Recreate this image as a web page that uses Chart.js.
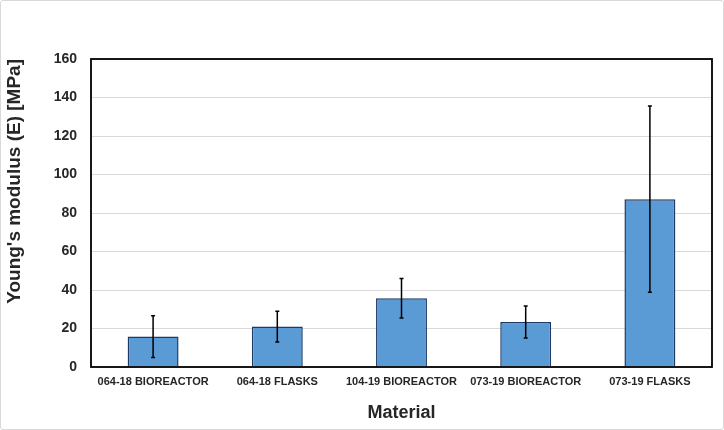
<!DOCTYPE html>
<html>
<head>
<meta charset="utf-8">
<script src="https://cdn.jsdelivr.net/npm/chart.js@4.4.1/dist/chart.umd.min.js"></script>
<style>
  html, body { margin: 0; padding: 0; background: #fff; }
  #wrap { position: relative; width: 724px; height: 430px; }
  #frame { position: absolute; left: 0; top: 0; width: 722px; height: 428px; border: 1px solid #d9d9d9; border-radius: 3px; pointer-events: none; }
</style>
</head>
<body>
<div id="wrap">
  <canvas id="modulusChart" width="724" height="430"></canvas>
  <div id="frame"></div>
</div>
<script>
const materials = ['064-18 BIOREACTOR', '064-18 FLASKS', '104-19 BIOREACTOR', '073-19 BIOREACTOR', '073-19 FLASKS'];
const modulus = [15.8, 21.0, 35.7, 23.4, 87.2];
const modulusErr = [10.8, 8.0, 10.3, 8.3, 48.4];
const yTicks = [0, 20, 40, 60, 80, 100, 120, 140, 160];

// error bars drawn from the y scale
const errorBars = {
    id: 'errorBars',
    afterDatasetsDraw(chart) {
        const ctx = chart.ctx;
        const y = chart.scales.y;
        const meta = chart.getDatasetMeta(0);
        ctx.save();
        ctx.strokeStyle = '#000';
        ctx.lineWidth = 1.5;
        meta.data.forEach((bar, i) => {
            const top = y.getPixelForValue(modulus[i] + modulusErr[i]);
            const bot = y.getPixelForValue(modulus[i] - modulusErr[i]);
            ctx.beginPath();
            ctx.moveTo(bar.x, top);
            ctx.lineTo(bar.x, bot);
            ctx.moveTo(bar.x - 2, top);
            ctx.lineTo(bar.x + 2, top);
            ctx.moveTo(bar.x - 2, bot);
            ctx.lineTo(bar.x + 2, bot);
            ctx.stroke();
        });
        ctx.restore();
    }
};

// black box round the plot area
const plotBorder = {
    id: 'plotBorder',
    afterDraw(chart) {
        const a = chart.chartArea;
        const ctx = chart.ctx;
        ctx.save();
        ctx.strokeStyle = '#000';
        ctx.lineWidth = 1.8;
        ctx.strokeRect(a.left, a.top, a.right - a.left, a.bottom - a.top);
        ctx.restore();
    }
};

new Chart(document.querySelector('#modulusChart').getContext('2d'), {
    type: 'bar',
    data: {
        labels: materials,
        datasets: [{
            data: modulus,
            backgroundColor: '#5b9bd5',
            borderColor: '#1f3864',
            borderWidth: 1.5,
            categoryPercentage: 1,
            barPercentage: 0.41
        }]
    },
    options: {
        responsive: false,
        animation: false,
        layout: { padding: { top: 59, right: 12, left: 0, bottom: 0 } },
        plugins: {
            legend: { display: false },
            tooltip: { enabled: false }
        },
        scales: {
            x: {
                grid: { display: false, drawTicks: false },
                border: { display: false },
                ticks: {
                    color: '#262626',
                    font: { family: 'Liberation Sans, Arial', size: 11, weight: 'bold' },
                    padding: 8,
                    maxRotation: 0,
                    autoSkip: false
                },
                title: {
                    display: true,
                    text: 'Material',
                    color: '#262626',
                    font: { family: 'Liberation Sans, Arial', size: 18, weight: 'bold' },
                    padding: { top: 0, bottom: 6 }
                },
                afterFit(scale) { scale.height = 63; }
            },
            y: {
                min: 0,
                max: 160,
                afterBuildTicks(scale) { scale.ticks = yTicks.map(v => ({ value: v })); },
                grid: { color: '#d9d9d9', lineWidth: 1, drawTicks: false },
                border: { display: false },
                ticks: {
                    color: '#262626',
                    font: { family: 'Liberation Sans, Arial', size: 14, weight: 'bold' },
                    padding: 14
                },
                title: {
                    display: true,
                    text: "Young's modulus (E) [MPa]",
                    color: '#262626',
                    align: 'end',
                    font: { family: 'Liberation Sans, Arial', size: 19, weight: 'bold' },
                    padding: { top: 3, bottom: 0 }
                },
                afterFit(scale) { scale.width = 91; }
            }
        }
    },
    plugins: [errorBars, plotBorder]
});
</script>
</body>
</html>
